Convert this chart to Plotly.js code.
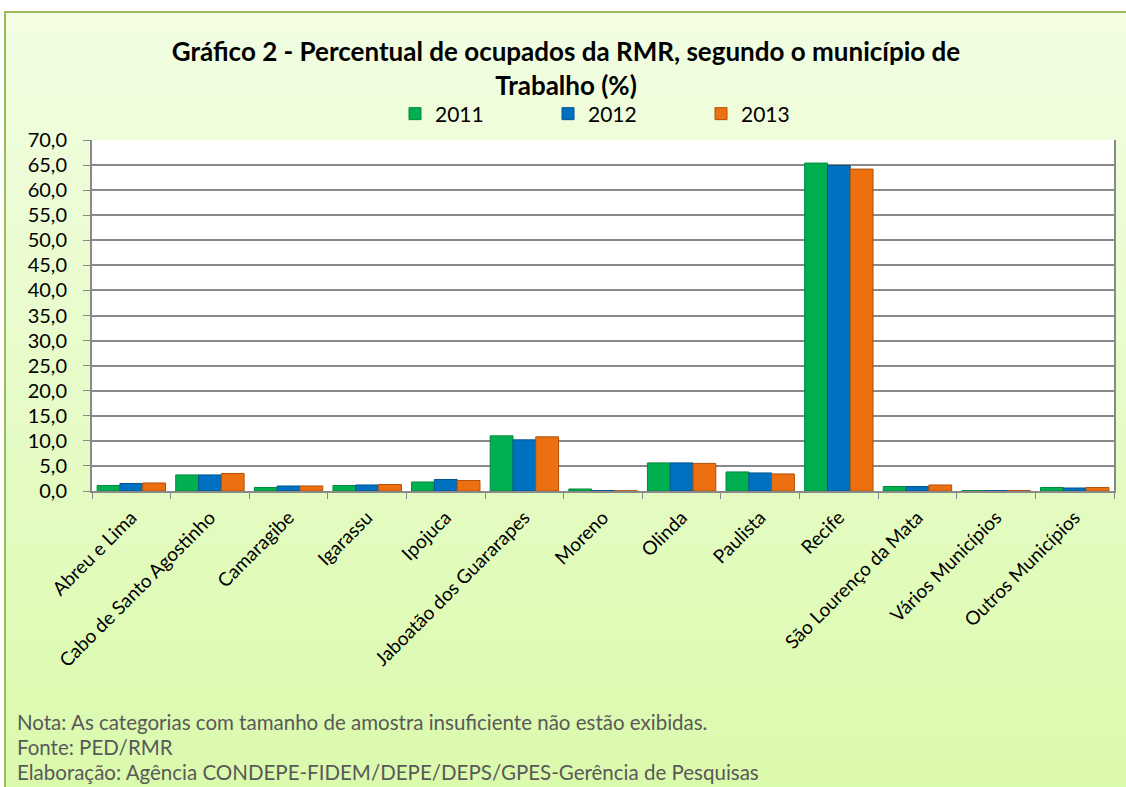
<!DOCTYPE html>
<html>
<head>
<meta charset="utf-8">
<script src="https://cdn.plot.ly/plotly-3.0.1.min.js"></script>
<style>html,body{margin:0;padding:0;background:#fff;}#chart{width:1126px;height:787px;}</style>
</head>
<body>
<div id="chart"></div>
<script>
const categories = ["Abreu e Lima","Cabo de Santo Agostinho","Camaragibe","Igarassu","Ipojuca","Jaboatão dos Guararapes","Moreno","Olinda","Paulista","Recife","São Lourenço da Mata","Vários Municípios","Outros Municípios"];
const v2011 = [1.1, 3.2, 0.7, 1.1, 1.8, 11.0, 0.4, 5.6, 3.8, 65.4, 0.9, 0.1, 0.7];
const v2012 = [1.5, 3.2, 1.0, 1.2, 2.3, 10.2, 0.1, 5.6, 3.6, 64.9, 0.9, 0.1, 0.6];
const v2013 = [1.6, 3.5, 1.0, 1.3, 2.1, 10.8, 0.05, 5.5, 3.4, 64.2, 1.2, 0.1, 0.7];
const seriesNames = ["2011","2012","2013"];
const colors = ["#00b050","#0070c0","#ec7010"];
const lineColors = ["#008a3c","#00558f","#b05008"];

const font = "Lato, 'Open Sans', sans-serif";
const traces = [v2011, v2012, v2013].map((v,i)=>({
  type:'bar', x:categories, y:v, name:seriesNames[i],
  marker:{color:colors[i], line:{color:lineColors[i], width:1}},
  hoverinfo:'x+y+name'
}));

// plot area pixel geometry
const L=92, R=1114, T=140, B=491, W=1126, H=787;
const pw=R-L, ph=B-T;
const px = x => (x-L)/pw;
const py = y => (B-y)/ph;

const shapes = [];
// gradient background of outer box
const x0=5, y0=12, x1=1135, y1=800;
const n=40;
const c0=[242,253,226], c1=[218,250,172];
for(let i=0;i<n;i++){
  const ya=y0+(y1-y0)*i/n, yb=y0+(y1-y0)*(i+1)/n+1;
  const t=i/(n-1);
  const c=c0.map((a,k)=>Math.round(a+(c1[k]-a)*t));
  shapes.push({type:'rect',xref:'paper',yref:'paper',x0:px(x0),x1:px(x1),y0:py(yb),y1:py(ya),
    fillcolor:`rgb(${c[0]},${c[1]},${c[2]})`,line:{width:0},layer:'below'});
}
shapes.push({type:'rect',xref:'paper',yref:'paper',x0:px(x0),x1:px(x1),y0:py(y1),y1:py(y0),
  fillcolor:'rgba(0,0,0,0)',line:{color:'#9bbb59',width:2},layer:'below'});
shapes.push({type:'rect',xref:'paper',yref:'paper',x0:0,x1:1,y0:0,y1:1,
  fillcolor:'#ffffff',line:{width:0},layer:'below'});

const notes = [
  "Nota: As categorias com tamanho de amostra insuficiente não estão exibidas.",
  "Fonte: PED/RMR",
  "Elaboração: Agência CONDEPE-FIDEM/DEPE/DEPS/GPES-Gerência de Pesquisas"
];
const annotations = notes.map((t,i)=>({
  text:t, xref:'paper', yref:'paper', x:px(15), y:py(722+i*25), xanchor:'left', yanchor:'middle',
  showarrow:false, font:{family:font, size:20.5, color:'#595959'}
}));

const layout = {
  width:W, height:H,
  margin:{l:L, r:W-R, t:T, b:H-B},
  paper_bgcolor:'#ffffff', plot_bgcolor:'rgba(0,0,0,0)',
  separators:',.',
  title:{text:'<b>Gráfico 2 - Percentual de ocupados da RMR, segundo o município de<br>Trabalho (%)</b>',
    x:566/W, xref:'container', xanchor:'center', y:1-61/H, yanchor:'middle',
    font:{family:font, size:26, color:'#000'}},
  barmode:'group', bargap:0.13, bargroupgap:0,
  showlegend:true,
  legend:{orientation:'h', x:px(395), xanchor:'left', y:py(114), yanchor:'middle',
    font:{family:font, size:21, color:'#000'}, bgcolor:'rgba(0,0,0,0)', traceorder:'normal',
    itemwidth:30, entrywidth:108},
  xaxis:{type:'category', tickangle:-45, tickson:'boundaries', ticks:'outside', ticklen:6, tickcolor:'#898989',
    showline:true, linecolor:'#898989', linewidth:2, showgrid:false, ticklabelstandoff:6,
    tickfont:{family:font, size:19, color:'#000'}, automargin:false},
  yaxis:{range:[0,70], dtick:5, tickformat:'.1f', ticks:'outside', ticklen:7, tickcolor:'#898989',
    showline:true, linecolor:'#898989', linewidth:2, mirror:true,
    gridcolor:'#898989', gridwidth:2, zeroline:false, ticklabelstandoff:12,
    tickfont:{family:font, size:20, color:'#000'}, automargin:false},
  shapes:shapes, annotations:annotations
};
Plotly.newPlot('chart', traces, layout, {displayModeBar:false, staticPlot:true});
</script>
</body>
</html>
